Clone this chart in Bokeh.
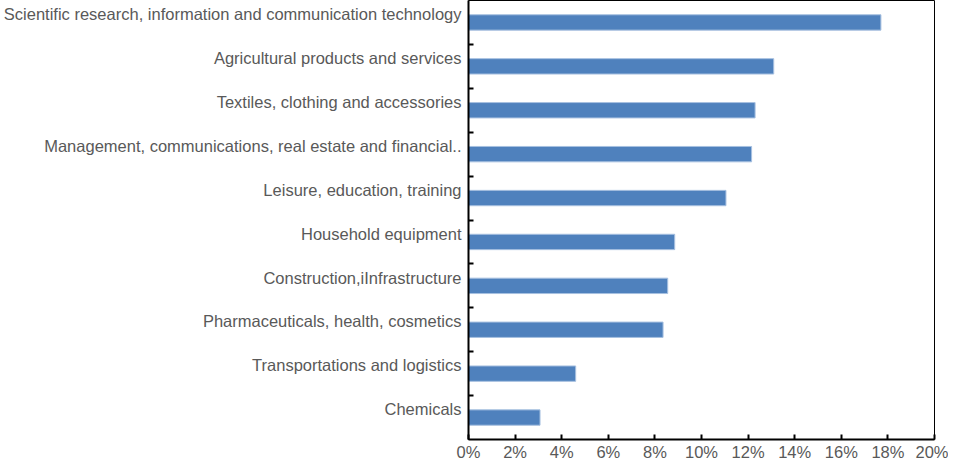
from bokeh.plotting import figure
from bokeh.models import FixedTicker, Range1d
from bokeh.embed import file_html
from bokeh.resources import INLINE

categories = [
    "Scientific research, information and communication technology",
    "Agricultural products and services",
    "Textiles, clothing and accessories",
    "Management, communications, real estate and financial..",
    "Leisure, education, training",
    "Household equipment",
    "Construction,iInfrastructure",
    "Pharmaceuticals, health, cosmetics",
    "Transportations and logistics",
    "Chemicals",
]
values = [17.7, 13.1, 12.3, 12.15, 11.05, 8.85, 8.55, 8.35, 4.6, 3.07]
x_ticks = [0, 2, 4, 6, 8, 10, 12, 14, 16, 18, 20]

n = len(categories)
centers = [n - 0.5 - i for i in range(n)]
label_shift = 0.19
label_pos = [c + label_shift for c in centers]

FONT = "Liberation Sans"
GREY = "#595959"

p = figure(width=948, height=463, output_backend="svg", toolbar_location=None,
           x_range=Range1d(0, 20), y_range=Range1d(0, n),
           min_border_left=462, min_border_right=14, min_border_top=0, min_border_bottom=0)

p.hbar(y=centers, right=values, left=0, height=0.35,
       fill_color="#4F81BD", line_color="#A7C0E0", line_width=1)

p.xgrid.visible = False
p.ygrid.visible = False
p.outline_line_color = "black"
p.outline_line_width = 1

xa = p.xaxis[0]
xa.ticker = FixedTicker(ticks=x_ticks)
xa.major_label_overrides = {t: f"{t}%" for t in x_ticks}
xa.axis_line_width = 2
xa.axis_line_color = "black"
xa.major_tick_in = 5
xa.major_tick_out = 0
xa.major_tick_line_width = 2
xa.minor_tick_in = 0
xa.minor_tick_out = 0
xa.minor_tick_line_color = None
xa.major_label_text_font = FONT
xa.major_label_text_font_size = "16.5px"
xa.major_label_text_color = GREY
xa.major_label_standoff = 3
xa.axis_label_standoff = 0
xa.axis_label_text_font_size = "0px"

ya = p.yaxis[0]
ya.ticker = FixedTicker(ticks=label_pos, minor_ticks=list(range(1, n)))
ya.major_label_overrides = {lp: c for lp, c in zip(label_pos, categories)}
ya.axis_line_width = 2
ya.axis_line_color = "black"
ya.major_tick_in = 0
ya.major_tick_out = 0
ya.minor_tick_in = 5
ya.minor_tick_out = 0
ya.minor_tick_line_width = 2
ya.minor_tick_line_color = "black"
ya.major_label_text_font = FONT
ya.major_label_text_font_size = "16.5px"
ya.major_label_text_color = GREY
ya.major_label_standoff = 7
ya.axis_label_standoff = 0
ya.axis_label_text_font_size = "0px"

open("out.html", "w").write(file_html(p, INLINE))
